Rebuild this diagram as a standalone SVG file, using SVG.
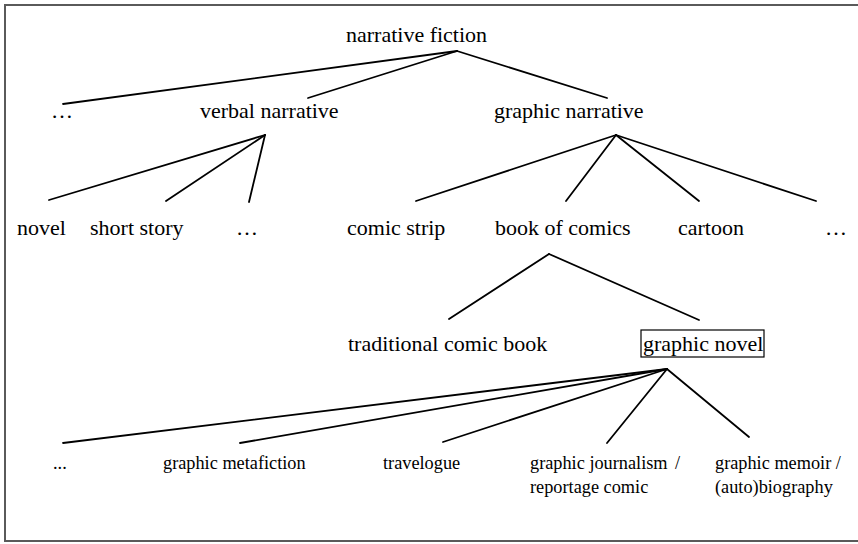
<svg xmlns="http://www.w3.org/2000/svg" width="858" height="544" viewBox="0 0 858 544">
<style>
  .t { font-family: "Liberation Serif", "Times New Roman", serif; font-size: 22px; fill: #000; }
  .s { font-family: "Liberation Serif", "Times New Roman", serif; font-size: 18.3px; fill: #000; }
  .c line { stroke: #000; stroke-width: 1.8; stroke-linecap: round; }
  .frame { stroke: #5a5a5a; stroke-width: 2; fill: none; }
</style>
<rect width="858" height="544" fill="#fff"/>
<path class="frame" d="M858,5 L5,5 L5,541 L858,541"/>
<g id="connectors" class="c">
  <line x1="457" y1="51" x2="63" y2="104"/>
  <line x1="457" y1="51" x2="308" y2="98"/>
  <line x1="457" y1="51" x2="607" y2="98"/>
  <line x1="265" y1="135" x2="49" y2="200"/>
  <line x1="265" y1="135" x2="166" y2="201"/>
  <line x1="265" y1="135" x2="249" y2="202"/>
  <line x1="616" y1="135" x2="416" y2="201"/>
  <line x1="616" y1="135" x2="566" y2="201"/>
  <line x1="616" y1="135" x2="699" y2="201"/>
  <line x1="616" y1="135" x2="816" y2="201"/>
  <line x1="549" y1="254" x2="449" y2="319"/>
  <line x1="549" y1="254" x2="699" y2="320"/>
  <line x1="667" y1="369" x2="63" y2="443"/>
  <line x1="667" y1="369" x2="240" y2="443"/>
  <line x1="667" y1="369" x2="443" y2="442"/>
  <line x1="667" y1="369" x2="607" y2="443"/>
  <line x1="667" y1="369" x2="749" y2="437"/>
</g>
<g id="n-narrative-fiction"><text class="t" x="346" y="42">narrative fiction</text></g>
<g id="n-other1"><text class="t" x="51" y="118">…</text></g>
<g id="n-verbal"><text class="t" x="200" y="118">verbal narrative</text></g>
<g id="n-graphic"><text class="t" x="494" y="118">graphic narrative</text></g>
<g id="n-novel"><text class="t" x="17" y="235">novel</text></g>
<g id="n-short-story"><text class="t" x="90" y="235">short story</text></g>
<g id="n-other2"><text class="t" x="236" y="235">…</text></g>
<g id="n-comic-strip"><text class="t" x="347" y="235">comic strip</text></g>
<g id="n-book-of-comics"><text class="t" x="495" y="235">book of comics</text></g>
<g id="n-cartoon"><text class="t" x="678" y="235">cartoon</text></g>
<g id="n-other3"><text class="t" x="825" y="235">…</text></g>
<g id="n-traditional"><text class="t" x="348" y="351">traditional comic book</text></g>
<g id="n-graphic-novel">
  <rect x="641" y="330" width="123" height="27" fill="none" stroke="#000" stroke-width="1.2"/>
  <text class="t" x="643" y="351">graphic novel</text>
</g>
<g id="n-other4"><text class="s" x="53" y="469">...</text></g>
<g id="n-metafiction"><text class="s" x="163" y="469">graphic metafiction</text></g>
<g id="n-travelogue"><text class="s" x="383" y="469">travelogue</text></g>
<g id="n-journalism">
  <text class="s" x="530" y="469">graphic journalism</text>
  <text class="s" x="675" y="469">/</text>
  <text class="s" x="530" y="493">reportage comic</text>
</g>
<g id="n-memoir">
  <text class="s" x="715" y="469">graphic memoir /</text>
  <text class="s" x="715" y="493">(auto)biography</text>
</g>
</svg>
